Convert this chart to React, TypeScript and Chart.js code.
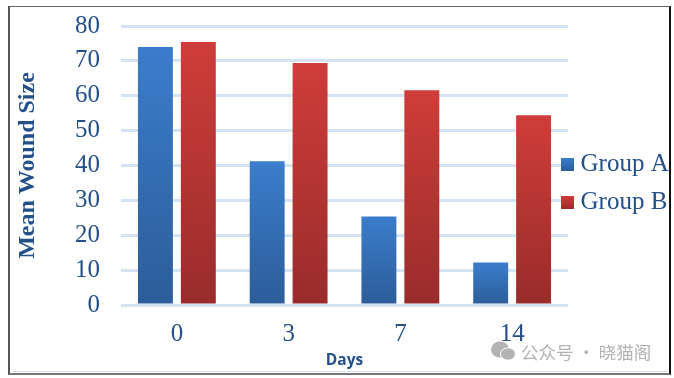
import React, { useEffect, useRef } from "react";
import { Chart, registerables } from "chart.js";

Chart.register(...registerables);

const categories = ["0", "3", "7", "14"];
const groupA = [74, 41.2, 25.4, 12.2];
const groupB = [75.4, 69.4, 61.6, 54.4];
const seriesNames = ["Group A", "Group B"];
const yTitle = "Mean Wound Size";
const xTitle = "Days";
const watermark = "公众号 · 晓猫阁";

const INK = "#24508a";
const stopsA = ["#3b7dcc", "#2c5d99"];
const stopsB = ["#cf3d39", "#982c2b"];

function barGradient(stops: string[]) {
  return (ctx: any) => {
    const { chart, parsed } = ctx;
    const y = chart.scales?.y;
    if (!y || !chart.chartArea || !parsed) return stops[0];
    const g = chart.ctx.createLinearGradient(0, y.getPixelForValue(parsed.y), 0, y.getPixelForValue(0));
    g.addColorStop(0, stops[0]);
    g.addColorStop(1, stops[1]);
    return g;
  };
}

const moveLegend = {
  id: "moveLegend",
  afterLayout(chart: any) {
    const l = chart.legend;
    const w = l.width;
    const h = l.height;
    l.left = 554;
    l.right = l.left + w;
    l.top = 139;
    l.bottom = l.top + h;
  },
};

export default function App() {
  const ref = useRef<HTMLCanvasElement>(null);
  useEffect(() => {
    document.body.style.margin = "0";
    const c2d = ref.current!.getContext("2d")!;
    const item = (i: number, stops: string[], top: number) => {
      const g = c2d.createLinearGradient(0, top, 0, top + 13);
      g.addColorStop(0, stops[0]);
      g.addColorStop(1, stops[1]);
      return { text: seriesNames[i], fillStyle: g, strokeStyle: g, lineWidth: 12, fontColor: INK, datasetIndex: i };
    };
    const chart = new Chart(ref.current!, {
      type: "bar",
      data: {
        labels: categories,
        datasets: [
          { label: seriesNames[0], data: groupA, backgroundColor: barGradient(stopsA) as any, barPercentage: 0.814, categoryPercentage: 0.768 },
          { label: seriesNames[1], data: groupB, backgroundColor: barGradient(stopsB) as any, barPercentage: 0.814, categoryPercentage: 0.768 },
        ],
      },
      options: {
        animation: false,
        responsive: false,
        events: [],
        layout: { padding: { left: 13, right: 106, top: 26, bottom: 8 } },
        plugins: {
          tooltip: { enabled: false },
          legend: {
            position: "chartArea" as any,
            align: "start",
            labels: {
              boxWidth: 1,
              boxHeight: 1,
              padding: 13,
              color: INK,
              font: { family: "'Liberation Serif'", size: 25 },
              generateLabels: () => [item(0, stopsA, 158), item(1, stopsB, 196)] as any,
            },
          },
        },
        scales: {
          x: {
            grid: { display: false },
            border: { display: false },
            ticks: { color: INK, font: { family: "'Liberation Serif'", size: 25 }, padding: 6, maxRotation: 0 },
            title: { display: true, text: xTitle, color: INK, font: { family: "'Open Sans'", size: 15.5, weight: "bold" }, padding: { top: 2, bottom: 0 } },
            afterFit: (s: any) => { s.height = 65; },
          },
          y: {
            min: 0,
            max: 80,
            grid: { color: "#d6e3f3", lineWidth: 3, drawTicks: false },
            border: { display: false },
            ticks: { stepSize: 10, color: INK, font: { family: "'Liberation Serif'", size: 25 }, padding: 21 },
            title: { display: true, text: yTitle, color: INK, font: { family: "'Liberation Serif'", size: 24, weight: "bold" }, padding: { top: 0, bottom: 0 } },
            afterFit: (s: any) => { s.width = 108; s.paddingTop = 0; s.paddingBottom = 0; },
          },
        },
      },
      plugins: [moveLegend],
    });
    return () => chart.destroy();
  }, []);

  return (
    <div style={{ position: "relative", width: 674, height: 378, background: "#fff", overflow: "hidden" }}>
      <canvas ref={ref} width={674} height={378} style={{ display: "block" }} />
      <div style={{ position: "absolute", left: 12, top: 371, width: 656, height: 1, background: "#d8e2ee" }} />
      <div
        style={{
          position: "absolute", left: 8, top: 6, width: 659, height: 366, boxSizing: "content-box",
          borderLeft: "2px solid #555", borderTop: "1px solid #666", borderRight: "2px solid #111", borderBottom: "2px solid #777",
        }}
      />
      <svg style={{ position: "absolute", left: 490, top: 341 }} width={27} height={20}>
        <ellipse cx={10} cy={8.5} rx={9} ry={8} fill="#b3b3b3" />
        <ellipse cx={18} cy={13} rx={7.5} ry={6.2} fill="#b3b3b3" stroke="#fff" strokeWidth={1} />
      </svg>
      <span
        style={{
          position: "absolute", left: 521, top: 340, fontFamily: "'Noto Sans CJK SC'", fontSize: 17.5,
          lineHeight: "24px", color: "#b3b3b3", whiteSpace: "nowrap",
        }}
      >
        {watermark}
      </span>
    </div>
  );
}
